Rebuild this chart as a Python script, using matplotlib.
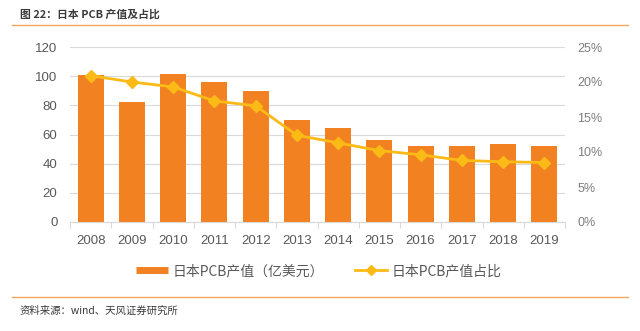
import matplotlib
matplotlib.use("Agg")
import matplotlib.pyplot as plt
from matplotlib.lines import Line2D
from matplotlib.ticker import FixedLocator, PercentFormatter

plt.rcParams['font.family'] = ['Liberation Sans', 'Noto Sans CJK SC', 'DejaVu Sans']

years = ['2008', '2009', '2010', '2011', '2012', '2013', '2014', '2015', '2016', '2017', '2018', '2019']
output_value = [100.8, 82.5, 101.3, 95.8, 90.1, 69.7, 64.7, 56.5, 52.1, 52.1, 53.7, 52.1]
share_pct = [20.9, 20.0, 19.3, 17.3, 16.6, 12.4, 11.3, 10.2, 9.6, 8.8, 8.6, 8.5]
bar_label = '日本PCB产值（亿美元）'
line_label = '日本PCB产值占比'
title = '图 22：日本 PCB 产值及占比'
source = '资料来源：wind、天风证券研究所'

bar_color = '#F28121'
line_color = '#FBBA16'
grid_color = '#D9D9D9'
tick_color = '#595959'
cjk = ['Noto Sans CJK SC', 'DejaVu Sans']

W, H = 640, 331
fig = plt.figure(figsize=(W / 100, H / 100), dpi=100)
ax = fig.add_axes([70 / W, 1 - 222 / H, (565 - 70) / W, (222 - 47) / H])
ax2 = ax.twinx()

x = list(range(len(years)))
ax.bar(x, output_value, width=0.63, color=bar_color, zorder=2)
ax.set_ylim(0, 120)
ax.set_yticks(range(0, 121, 20))
ax.set_xlim(-0.5, len(years) - 0.5)
ax.set_xticks(x)
ax.set_xticklabels(years)
ax.xaxis.set_minor_locator(FixedLocator([i - 0.5 for i in range(len(years) + 1)]))
ax.tick_params(axis='x', which='major', length=0, pad=9, labelsize=9.5, labelcolor=tick_color)
ax.tick_params(axis='x', which='minor', length=4, color=grid_color, width=0.8)
ax.tick_params(axis='y', length=0, pad=9, labelsize=9.5, labelcolor=tick_color)
ax.grid(axis='y', color=grid_color, linewidth=0.8, zorder=0)
ax.set_axisbelow(True)
for s in ['top', 'right', 'left']:
    ax.spines[s].set_visible(False)
ax.spines['bottom'].set_color(grid_color)
ax.spines['bottom'].set_linewidth(0.8)

ax2.plot(x, share_pct, color=line_color, linewidth=2, marker='D', markersize=6,
         markerfacecolor=line_color, markeredgecolor=line_color, zorder=3)
ax2.set_ylim(0, 25)
ax2.set_yticks(range(0, 26, 5))
ax2.yaxis.set_major_formatter(PercentFormatter(decimals=0))
ax2.tick_params(axis='y', length=0, pad=9, labelsize=9, labelcolor='#7F7F7F')
for lab in ax2.get_yticklabels():
    lab.set_fontstretch('condensed')
for s in ax2.spines.values():
    s.set_visible(False)

handles = [Line2D([0], [0], color=bar_color, lw=5, solid_capstyle='butt'),
           Line2D([0], [0], color=line_color, lw=2, marker='D', markersize=5)]
leg = fig.legend(handles, [bar_label, line_label], loc='center', ncol=2,
                 bbox_to_anchor=(319 / W, 1 - 271 / H), frameon=False,
                 handlelength=2.3, handletextpad=0.35, columnspacing=2.2,
                 prop={'family': cjk, 'size': 10})
for t in leg.get_texts():
    t.set_color(tick_color)

fig.text(20 / W, 1 - 14 / H, title, fontsize=7.8, fontweight='bold', color='#3A3A3A',
         family=cjk, va='center', ha='left')
fig.add_artist(Line2D([12 / W, 628 / W], [1 - 25 / H] * 2, transform=fig.transFigure,
                      color='#F2A65A', linewidth=1))
fig.add_artist(Line2D([12 / W, 628 / W], [1 - 297 / H] * 2, transform=fig.transFigure,
                      color='#F2A65A', linewidth=1))
fig.text(20 / W, 1 - 311 / H, source, fontsize=7.5, color='#3A3A3A',
         family=cjk, va='center', ha='left')

fig.savefig('out.png', dpi=100)
